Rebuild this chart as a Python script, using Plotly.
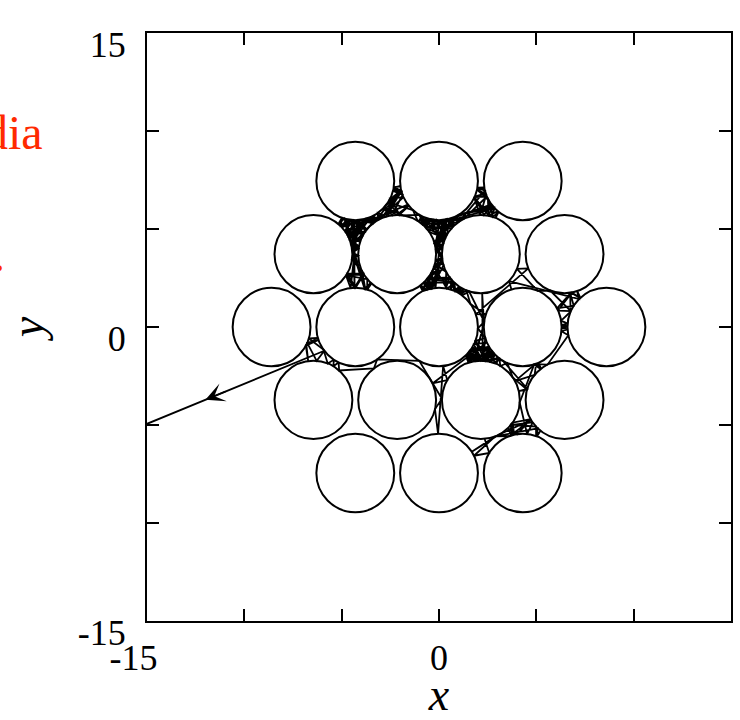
import numpy as np
import plotly.graph_objects as go

# Scatterer layout: 19 hard disks on a triangular lattice
disk_x = [-4.3, 0.0, 4.3,
          -6.45, -2.15, 2.15, 6.45,
          -8.6, -4.3, 0.0, 4.3, 8.6,
          -6.45, -2.15, 2.15, 6.45,
          -4.3, 0.0, 4.3]
disk_y = [7.45, 7.45, 7.45,
          3.72, 3.72, 3.72, 3.72,
          0.0, 0.0, 0.0, 0.0, 0.0,
          -3.72, -3.72, -3.72, -3.72,
          -7.45, -7.45, -7.45]
disk_radius = 2.0

# Escaping ray: it leaves through the left edge of the box near y = -4.9
# with slope 0.409; the exact crossing height is taken from this window.
exit_x = -15.0
exit_y_window = [-4.99, -4.79]
exit_slope = 0.409
max_bounces = 900

axis_ticks = [-15, -10, -5, 0, 5, 10, 15]
x_ticktext = ["-15&nbsp;&nbsp;&nbsp;", "", "", "0", "", "", "15"]
y_ticktext = ["-15", "", "", "0", "", "", "15"]

centers = np.column_stack([disk_x, disk_y])


def billiard_path(start, direction, n_max):
    """Specular reflections off the disks; returns bounce points and whether it escaped."""
    p = np.array(start, float)
    d = np.array(direction, float)
    d /= np.linalg.norm(d)
    pts = [p.copy()]
    last = -1
    for _ in range(n_max):
        f = p - centers
        b = f @ d
        cc = (f * f).sum(1) - disk_radius ** 2
        disc = b * b - cc
        ok = (b < 0) & (disc > 0) & (cc > 0)
        if last >= 0:
            ok[last] = False
        if not ok.any():
            return np.array(pts), True
        t = np.full(len(centers), np.inf)
        t[ok] = cc[ok] / (-b[ok] + np.sqrt(disc[ok]))
        i = int(np.argmin(t))
        q = p + t[i] * d
        n = q - centers[i]
        n /= np.linalg.norm(n)
        p = centers[i] + disk_radius * n
        d = d - 2 * (d @ n) * n
        d /= np.linalg.norm(d)
        last = i
        pts.append(p.copy())
    return np.array(pts), False


# integrate backwards in time from the outgoing ray; keep the longest-lived one
back_dir = [1.0, exit_slope]
best = None
for y0 in np.arange(exit_y_window[0], exit_y_window[1], 0.002):
    pts, _ = billiard_path([exit_x, y0], back_dir, max_bounces)
    if best is None or len(pts) > len(best):
        best = pts
path = best[::-1]
exit_y = path[-1, 1]

fig = go.Figure()
fig.add_trace(go.Scatter(x=path[:, 0], y=path[:, 1], mode="lines",
                         line=dict(color="black", width=1.8, simplify=False),
                         hoverinfo="skip", showlegend=False))

for cx, cy in zip(disk_x, disk_y):
    fig.add_shape(type="circle", xref="x", yref="y",
                  x0=cx - disk_radius, x1=cx + disk_radius,
                  y0=cy - disk_radius, y1=cy + disk_radius,
                  line=dict(color="black", width=2), fillcolor="rgba(0,0,0,0)")

# arrow on the outgoing ray
ex = np.array([-1.0, -exit_slope]) / np.hypot(1.0, exit_slope)
head_x = -12.0
head_y = exit_y + (head_x - exit_x) * exit_slope
fig.add_annotation(x=head_x, y=head_y, xref="x", yref="y",
                   ax=head_x - 1.2 * ex[0], ay=head_y - 1.2 * ex[1],
                   axref="x", ayref="y", text="", showarrow=True,
                   arrowhead=3, arrowsize=2.0, arrowwidth=1.6, arrowcolor="black")

serif = "Liberation Serif, Times New Roman, serif"
red = "#ff2a00"
fig.add_annotation(xref="paper", yref="paper", x=(45 - 147) / 586, y=(621 - 132) / 588,
                   xanchor="right", yanchor="middle", showarrow=False,
                   text="dia", font=dict(family=serif, size=48, color=red))
fig.add_annotation(xref="paper", yref="paper", x=(7 - 147) / 586, y=(621 - 254) / 588,
                   xanchor="right", yanchor="middle", showarrow=False,
                   text=".", font=dict(family=serif, size=48, color=red))

axis_common = dict(range=[-15, 15], tickvals=axis_ticks,
                   ticks="inside", ticklen=12, tickwidth=2, tickcolor="black",
                   showline=True, linewidth=2, linecolor="black", mirror="ticks",
                   showgrid=False, zeroline=False,
                   tickfont=dict(family=serif, size=36, color="black"))

fig.update_layout(
    width=740, height=720,
    margin=dict(l=147, r=7, t=33, b=99),
    paper_bgcolor="white", plot_bgcolor="white",
    xaxis=dict(**axis_common, ticktext=x_ticktext, ticklabelstandoff=4,
               title=dict(text="<i>x</i>", font=dict(family=serif, size=46, color="black"), standoff=0)),
    yaxis=dict(**axis_common, ticktext=y_ticktext, ticklabelshift=11, ticklabelstandoff=12,
               title=dict(text="<i>y</i>", font=dict(family=serif, size=46, color="black"), standoff=20)),
)

fig.write_html("out.html")
